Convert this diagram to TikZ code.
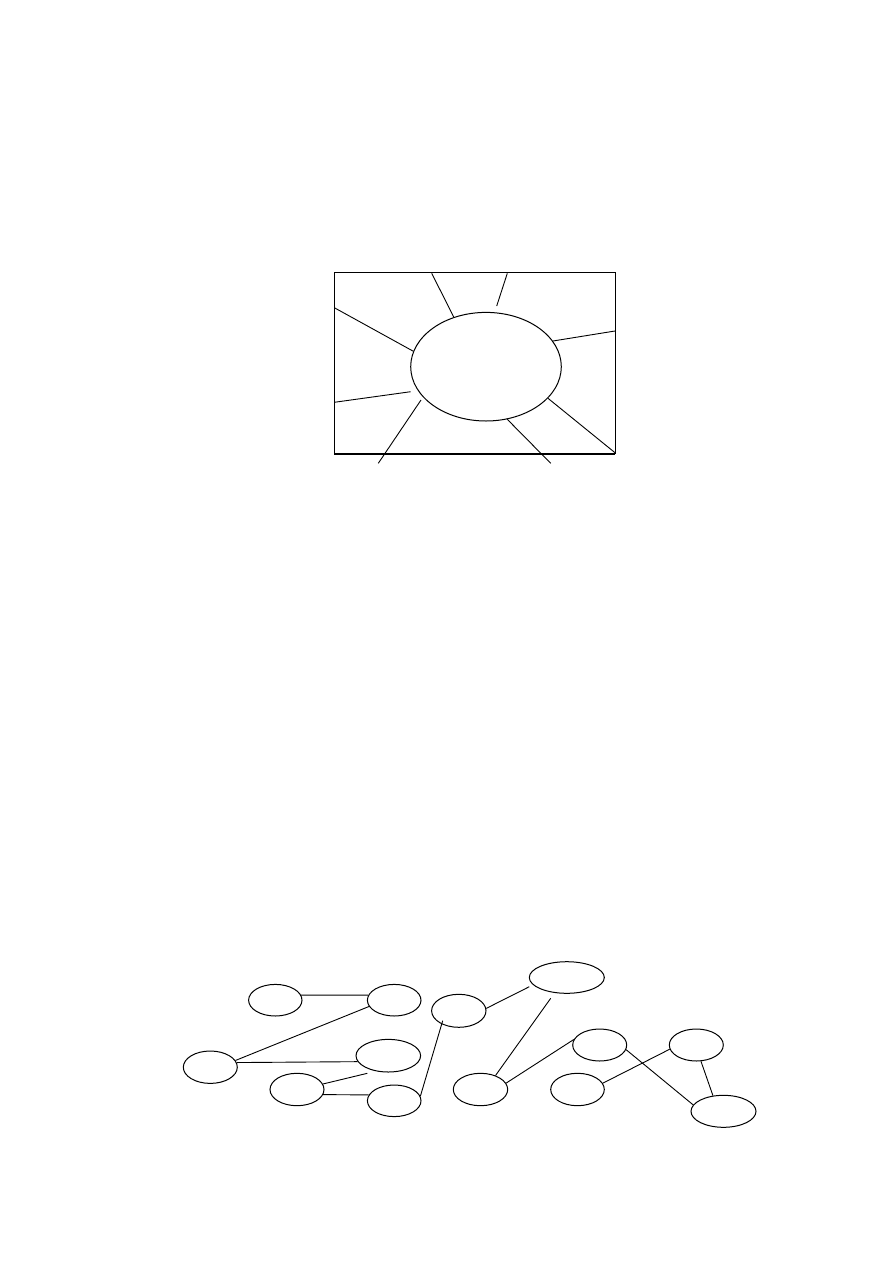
\documentclass[tikz,border=0pt]{standalone}
\usetikzlibrary{shapes.geometric}
\begin{document}
\begin{tikzpicture}[x=1pt,y=-1pt,
  oval/.style={draw,ellipse,inner sep=0pt,line width=1pt},
  link/.style={line width=0.9pt}]
\useasboundingbox (0,0) rectangle (893,1263);
% top figure
\draw[line width=0.9pt] (334,454) -- (334,272) -- (615,272) -- (615,454);
\draw[line width=2pt] (334,454) -- (615,454);
\node[oval,minimum width=150.6pt,minimum height=108.6pt] (S) at (486,366.7) {};
\coordinate (r1) at (431.7,273.3);
\coordinate (r2a) at (507.3,273.3);
\coordinate (r2b) at (496.7,306);
\coordinate (r3) at (334.3,307.7);
\coordinate (r4) at (615,331);
\coordinate (r5a) at (334.3,402.3);
\coordinate (r5b) at (410.7,391.7);
\coordinate (r6a) at (421,400);
\coordinate (r6b) at (378.3,463.3);
\coordinate (r7) at (550.7,463.3);
\coordinate (r8) at (615,452.7);
\draw[link] (r1) -- (S.123.5);
\draw[link] (r2a) -- (r2b);
\draw[link] (r3) -- (S.168.2);
\draw[link] (r4) -- (S.21.4);
\draw[link] (r5a) -- (r5b);
\draw[link] (r6a) -- (r6b);
\draw[link] (S.-68.2) -- (r7);
\draw[link] (S.-27) -- (r8);
% bottom network
\node[oval,minimum width=53.4pt,minimum height=31.6pt] (A) at (275.3,1000.2) {};
\node[oval,minimum width=53.6pt,minimum height=31.6pt] (B) at (394.2,1000.2) {};
\node[oval,minimum width=54pt,minimum height=32.4pt] (C) at (210.3,1067.2) {};
\node[oval,minimum width=64.6pt,minimum height=32.6pt] (D) at (388.3,1055.7) {};
\node[oval,minimum width=54pt,minimum height=32.4pt] (E) at (297,1089.5) {};
\node[oval,minimum width=53.6pt,minimum height=31.6pt] (F) at (394.2,1100.8) {};
\node[oval,minimum width=54.4pt,minimum height=33pt] (G) at (458.8,1010.8) {};
\node[oval,minimum width=75pt,minimum height=31.6pt] (H) at (566.8,977.5) {};
\node[oval,minimum width=54.4pt,minimum height=32.4pt] (I) at (480.5,1089.5) {};
\node[oval,minimum width=54pt,minimum height=32pt] (J) at (599.7,1045) {};
\node[oval,minimum width=53.6pt,minimum height=32.4pt] (K) at (577.5,1089.5) {};
\node[oval,minimum width=54pt,minimum height=32pt] (L) at (696.3,1045) {};
\node[oval,minimum width=65pt,minimum height=32pt] (M) at (723.5,1111.3) {};
\coordinate (efree) at (367.3,1073.3);
\coordinate (gin) at (442.7,1020.7);
\coordinate (hleft) at (529.3,986.7);
\coordinate (hlow) at (550.7,998.3);
\draw[link] (A.11) -- (B.169);
\draw[link] (C.15) -- (B.194);
\draw[link] (C.10.3) -- (D.191.5);
\draw[link] (E.12.9) -- (efree);
\draw[link] (E.-11.5) -- (F.167.8);
\draw[link] (F.10.3) -- (gin);
\draw[link] (G.5.3) -- (hleft);
\draw[link] (hlow) -- (I.43.1);
\draw[link] (I.14) -- (J.168);
\draw[link] (K.14.2) -- (L.189.5);
\draw[link] (J.-10.5) -- (M.168.8);
\draw[link] (L.-74.3) -- (M.124.7);
\end{tikzpicture}
\end{document}
